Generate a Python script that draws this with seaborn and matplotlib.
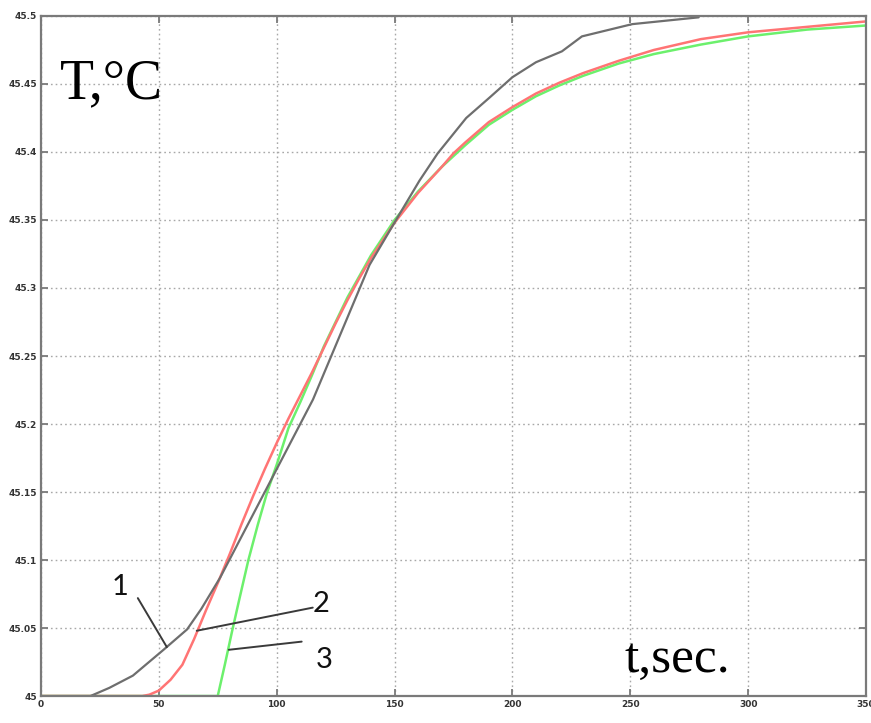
import matplotlib
matplotlib.use("Agg")
import matplotlib.pyplot as plt
import seaborn as sns
import pandas as pd

# Measured temperature response (curve 1)
t_measured = [0, 21, 29, 39, 52, 62, 68, 76, 115.4, 139.4, 152, 160.6, 168.3,
              180.4, 190.3, 200, 210, 221, 229.5, 250.8, 279]
T_measured = [45.0, 45.0, 45.006, 45.015, 45.034, 45.049, 45.064, 45.087, 45.218,
              45.317, 45.354, 45.379, 45.399, 45.425, 45.44, 45.455, 45.466,
              45.474, 45.485, 45.494, 45.499]

# Model response (curve 2)
t_model2 = [0, 43, 46, 50, 55, 60, 65, 70, 75, 80, 85, 90, 95, 100, 105, 110,
            115, 120, 125, 130, 135, 140, 150, 160, 170, 175, 180, 190, 200,
            210, 220, 230, 245, 260, 280, 300, 325, 350]
T_model2 = [45.0, 45.0, 45.001, 45.004, 45.012, 45.023, 45.042, 45.063, 45.083,
            45.104, 45.126, 45.147, 45.167, 45.186, 45.204, 45.221, 45.238,
            45.256, 45.274, 45.291, 45.307, 45.322, 45.348, 45.370, 45.389,
            45.399, 45.407, 45.422, 45.433, 45.443, 45.451, 45.458, 45.467,
            45.475, 45.483, 45.488, 45.492, 45.496]

# Model response with pure delay (curve 3)
t_model3 = [0, 75, 78, 81, 84, 88, 92, 96, 100, 105, 110, 115, 120, 130, 140,
            150, 160, 170, 180, 190, 200, 210, 220, 230, 245, 260, 280, 300,
            325, 350]
T_model3 = [45.0, 45.0, 45.023, 45.047, 45.070, 45.100, 45.126, 45.150, 45.170,
            45.197, 45.216, 45.236, 45.257, 45.293, 45.324, 45.350, 45.371,
            45.389, 45.405, 45.420, 45.431, 45.441, 45.449, 45.456, 45.465,
            45.472, 45.479, 45.485, 45.490, 45.493]

x_ticks = [0, 50, 100, 150, 200, 250, 300, 350]
y_ticks = [45, 45.05, 45.1, 45.15, 45.2, 45.25, 45.3, 45.35, 45.4, 45.45, 45.5]
y_tick_labels = ["45", "45.05", "45.1", "45.15", "45.2", "45.25", "45.3",
                 "45.35", "45.4", "45.45", "45.5"]

sns.set_theme(style="white")
plt.rcParams["font.family"] = ["DejaVu Sans"]

fig = plt.figure(figsize=(8.71, 7.23), dpi=100)
ax = fig.add_axes([0.047, 0.0373, 0.9473, 0.9406])

df1 = pd.DataFrame({"t": t_measured, "T": T_measured})
df2 = pd.DataFrame({"t": t_model2, "T": T_model2})
df3 = pd.DataFrame({"t": t_model3, "T": T_model3})

sns.lineplot(data=df3, x="t", y="T", ax=ax, color="#6cf06c", linewidth=1.8,
             sort=False, estimator=None)
sns.lineplot(data=df2, x="t", y="T", ax=ax, color="#ff7474", linewidth=1.8,
             sort=False, estimator=None)
sns.lineplot(data=df1, x="t", y="T", ax=ax, color="#6e6e6e", linewidth=1.6,
             sort=False, estimator=None)

ax.set_xlim(0, 350)
ax.set_ylim(45, 45.5)
ax.set_xticks(x_ticks)
ax.set_xticklabels([str(v) for v in x_ticks])
ax.set_yticks(y_ticks)
ax.set_yticklabels(y_tick_labels)
ax.set_xlabel("")
ax.set_ylabel("")

ax.grid(True, linestyle=(0, (1.2, 2.2)), color="#a8a8a8", linewidth=1.0)
for s in ax.spines.values():
    s.set_color("#7a7a7a")
    s.set_linewidth(1.6)
    s.set_visible(True)

ax.tick_params(axis="both", which="major", direction="in", length=5,
               width=1.3, color="#7a7a7a", labelsize=6.5, labelcolor="#333333",
               top=True, right=True, bottom=True, left=True, pad=3)
for lbl in ax.get_xticklabels() + ax.get_yticklabels():
    lbl.set_fontweight("bold")

# Leader lines for the curve numbers
leader_color = "#3a3a3a"
ax.plot([41.1, 53.4], [45.072, 45.036], color=leader_color, linewidth=1.4)
ax.plot([66.1, 115.3], [45.048, 45.065], color=leader_color, linewidth=1.4)
ax.plot([79.7, 110.6], [45.034, 45.040], color=leader_color, linewidth=1.4)

num_font = ["Lato", "DejaVu Sans"]
ax.text(33.5, 45.080, "1", fontsize=21, family=num_font, ha="center",
        va="center", color="#111111")
ax.text(119.0, 45.068, "2", fontsize=21, family=num_font, ha="center",
        va="center", color="#111111")
ax.text(120.3, 45.0265, "3", fontsize=21, family=num_font, ha="center",
        va="center", color="#111111")

serif = ["Liberation Serif", "DejaVu Serif"]
ax.text(0.023, 0.879, "T,°C", transform=ax.transAxes, fontsize=40,
        family=serif, ha="left", va="baseline", color="black")
ax.text(0.707, 0.035, "t,sec.", transform=ax.transAxes, fontsize=37,
        family=serif, ha="left", va="baseline", color="black")

fig.savefig("out.png", dpi=100)
